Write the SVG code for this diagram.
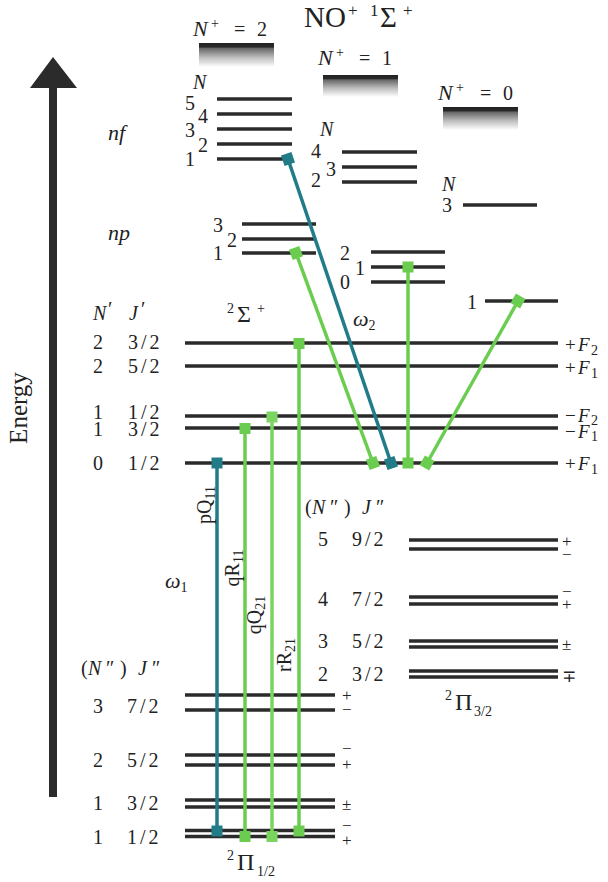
<svg xmlns="http://www.w3.org/2000/svg" width="608" height="882" viewBox="0 0 608 882">
<style>
text{font-family:"Liberation Serif","DejaVu Serif",serif;font-size:20px;fill:#222}
.i{font-style:italic}
.s{font-size:14px}
.pm{font-size:17px}
.fl{font-size:19px}
.lv{stroke:#2b2b2b;stroke-width:3.5;fill:none}
.teal{stroke:#217c88;stroke-width:3.5;fill:none}
.grn{stroke:#6bcd50;stroke-width:3.5;fill:none}
.grn2{stroke:#7bd460;stroke-width:3.5;fill:none}
</style>
<defs>
<linearGradient id="gb" x1="0" y1="0" x2="0" y2="1">
<stop offset="0" stop-color="#222"/>
<stop offset="0.17" stop-color="#2a2a2a"/>
<stop offset="0.22" stop-color="#666"/>
<stop offset="0.6" stop-color="#bdbdbd"/>
<stop offset="1" stop-color="#fff"/>
</linearGradient>
<marker id="mt" markerUnits="userSpaceOnUse" markerWidth="12" markerHeight="12" refX="6" refY="6" orient="auto"><rect x="0.5" y="0.5" width="11" height="11" fill="#217c88"/></marker>
<marker id="mg" markerUnits="userSpaceOnUse" markerWidth="12" markerHeight="12" refX="6" refY="6" orient="auto"><rect x="0.5" y="0.5" width="11" height="11" fill="#6bcd50"/></marker>
<marker id="mg2" markerUnits="userSpaceOnUse" markerWidth="12" markerHeight="12" refX="6" refY="6" orient="auto"><rect x="0.5" y="0.5" width="11" height="11" fill="#7bd460"/></marker>
</defs>
<rect width="608" height="882" fill="#fff"/>

<!-- Energy axis -->
<g id="energy-axis">
<rect x="49" y="86" width="8" height="711" fill="#2b2b2b"/>
<polygon points="53,57 30,88 77,88" fill="#2b2b2b"/>
<text transform="translate(27,408) rotate(-90)" text-anchor="middle" style="font-size:25px">Energy</text>
</g>

<!-- Title -->
<g id="title">
<text y="27" style="font-size:29px"><tspan x="304">NO</tspan><tspan x="348" y="16" style="font-size:17px">+</tspan><tspan x="370" y="16" style="font-size:17px">1</tspan><tspan x="380" y="27">Σ</tspan><tspan x="403" y="16" style="font-size:17px">+</tspan></text>
</g>

<!-- N+ = 2 series -->
<g id="nplus2">
<text y="36"><tspan x="193" class="i" style="font-size:22px">N</tspan><tspan class="s" x="211" y="28">+</tspan><tspan x="234" y="36">=</tspan><tspan x="257">2</tspan></text>
<rect x="199" y="43" width="75" height="24" fill="url(#gb)"/>
</g>
<g id="nf-levels">
<text x="108" y="140" class="i" style="font-size:22px">nf</text>
<text x="193" y="89" class="i">N</text>
<text x="185" y="110">5</text><text x="198" y="123">4</text><text x="185" y="137">3</text><text x="198" y="152">2</text><text x="185" y="166">1</text>
<path class="lv" d="M217,99H292M217,114H292M217,129H292M217,144H292M217,159H292"/>
</g>
<g id="np-levels">
<text x="108" y="240" class="i" style="font-size:22px">np</text>
<text x="213" y="232">3</text><text x="227" y="247">2</text><text x="213" y="260">1</text>
<path class="lv" d="M242,224H316M242,239H316M242,253H316"/>
</g>

<!-- N+ = 1 series -->
<g id="nplus1">
<text y="65"><tspan x="318" class="i" style="font-size:22px">N</tspan><tspan class="s" x="336" y="57">+</tspan><tspan x="359" y="65">=</tspan><tspan x="382">1</tspan></text>
<rect x="323" y="75" width="75" height="22" fill="url(#gb)"/>
</g>
<g id="nplus1-f">
<text x="320" y="136" class="i">N</text>
<text x="311" y="158">4</text><text x="326" y="176">3</text><text x="311" y="187">2</text>
<path class="lv" d="M342,152H417M342,167H417M342,182H417"/>
</g>
<g id="nplus1-p">
<text x="340" y="260">2</text><text x="355" y="275">1</text><text x="340" y="289">0</text>
<path class="lv" d="M371,252H445M371,267H445M371,282H445"/>
</g>

<!-- N+ = 0 series -->
<g id="nplus0">
<text y="100"><tspan x="438" class="i" style="font-size:22px">N</tspan><tspan class="s" x="456" y="92">+</tspan><tspan x="480" y="100">=</tspan><tspan x="503">0</tspan></text>
<rect x="443" y="107" width="75" height="23" fill="url(#gb)"/>
</g>
<g id="nplus0-levels">
<text x="442" y="191" class="i">N</text>
<text x="442" y="212">3</text>
<path class="lv" d="M463,205H537"/>
<text x="467" y="309">1</text>
<path class="lv" d="M485,301H558"/>
</g>

<!-- 2Sigma+ -->
<g id="sigma">
<text y="322"><tspan x="227" y="313" class="s">2</tspan><tspan x="237" y="322" style="font-size:24px">Σ</tspan><tspan x="257" y="313" class="s">+</tspan></text>
<text y="320"><tspan x="93" class="i">N</tspan><tspan x="108" y="316">′</tspan><tspan x="129" y="320" class="i">J</tspan><tspan x="141" y="316">′</tspan></text>
<text x="93" y="349">2</text><text x="128" y="349" letter-spacing="3">3/2</text>
<text x="93" y="373">2</text><text x="128" y="373" letter-spacing="3">5/2</text>
<text x="93" y="419">1</text><text x="128" y="419" letter-spacing="3">1/2</text>
<text x="93" y="436">1</text><text x="128" y="436" letter-spacing="3">3/2</text>
<text x="93" y="470">0</text><text x="128" y="470" letter-spacing="3">1/2</text>
<path class="lv" d="M185,343H558M185,366H558M185,416H558M185,428H558M185,463H558"/>
<text x="565" y="351" class="fl">+<tspan class="i" x="578">F</tspan><tspan class="s" x="591" dy="4">2</tspan></text>
<text x="565" y="374" class="fl">+<tspan class="i" x="578">F</tspan><tspan class="s" x="591" dy="4">1</tspan></text>
<text x="565" y="422" class="fl">−<tspan class="i" x="578">F</tspan><tspan class="s" x="591" dy="3">2</tspan></text>
<text x="565" y="438" class="fl">−<tspan class="i" x="578">F</tspan><tspan class="s" x="591" dy="3">1</tspan></text>
<text x="565" y="470" class="fl">+<tspan class="i" x="578">F</tspan><tspan class="s" x="591" dy="4">1</tspan></text>
</g>

<!-- 2Pi 3/2 -->
<g id="pi32">
<text y="514"><tspan x="305">(</tspan><tspan class="i" x="312">N</tspan><tspan x="330">″</tspan><tspan x="344">)</tspan><tspan class="i" x="362">J</tspan><tspan x="376">″</tspan></text>
<text x="318" y="546">5</text><text x="352" y="546" letter-spacing="3">9/2</text>
<text x="318" y="606">4</text><text x="352" y="606" letter-spacing="3">7/2</text>
<text x="318" y="648">3</text><text x="352" y="648" letter-spacing="3">5/2</text>
<text x="318" y="681">2</text><text x="352" y="681" letter-spacing="3">3/2</text>
<path class="lv" d="M409,540H558M409,549H558M409,597H558M409,604H558M409,641H558M409,647H558M409,671H558M409,677H558"/>
<text class="pm"><tspan x="562" y="547">+</tspan><tspan x="562" y="560">−</tspan></text>
<text class="pm"><tspan x="562" y="597">−</tspan><tspan x="562" y="610">+</tspan></text>
<text x="562" y="650" class="pm">±</text>
<text x="562" y="682" class="pm">∓</text>
<text y="710"><tspan x="445" y="700" class="s">2</tspan><tspan x="455" y="710" style="font-size:24px">Π</tspan><tspan class="s" x="474" y="716">3/2</tspan></text>
</g>

<!-- 2Pi 1/2 -->
<g id="pi12">
<text y="675"><tspan x="81">(</tspan><tspan class="i" x="88">N</tspan><tspan x="106">″</tspan><tspan x="120">)</tspan><tspan class="i" x="138">J</tspan><tspan x="152">″</tspan></text>
<text x="93" y="713">3</text><text x="127" y="713" letter-spacing="3">7/2</text>
<text x="93" y="767">2</text><text x="127" y="767" letter-spacing="3">5/2</text>
<text x="93" y="810">1</text><text x="127" y="810" letter-spacing="3">3/2</text>
<text x="93" y="844">1</text><text x="127" y="844" letter-spacing="3">1/2</text>
<path class="lv" d="M185,695H335M185,710H335M185,755H335M185,765H335M185,800H335M185,807H335M185,830.5H335M185,836.5H335"/>
<text class="pm"><tspan x="342" y="701">+</tspan><tspan x="342" y="715">−</tspan></text>
<text class="pm"><tspan x="342" y="754">−</tspan><tspan x="342" y="770">+</tspan></text>
<text x="342" y="810" class="pm">±</text>
<text class="pm"><tspan x="342" y="831">−</tspan><tspan x="342" y="846">+</tspan></text>
<text y="870"><tspan x="227" y="860" class="s">2</tspan><tspan x="237" y="870" style="font-size:24px">Π</tspan><tspan class="s" x="257" y="876">1/2</tspan></text>
</g>

<!-- connectors -->
<g id="transitions">
<line class="teal" x1="217" y1="831" x2="217" y2="463" marker-start="url(#mt)" marker-end="url(#mt)"/>
<line class="grn" x1="245" y1="836.5" x2="245" y2="428.5" marker-start="url(#mg)" marker-end="url(#mg)"/>
<line class="grn2" x1="272" y1="836.5" x2="272" y2="417" marker-start="url(#mg2)" marker-end="url(#mg2)"/>
<line class="grn" x1="299" y1="831" x2="299" y2="343.5" marker-start="url(#mg)" marker-end="url(#mg)"/>
<line class="grn" x1="373" y1="463" x2="296" y2="253" marker-start="url(#mg)" marker-end="url(#mg)"/>
<line class="teal" x1="391" y1="463" x2="288" y2="159" marker-start="url(#mt)" marker-end="url(#mt)"/>
<line class="grn" x1="408" y1="463" x2="408" y2="267" marker-start="url(#mg)" marker-end="url(#mg)"/>
<line class="grn" x1="427" y1="463" x2="518" y2="301" marker-start="url(#mg)" marker-end="url(#mg)"/>
</g>
<g id="transition-labels">
<text transform="translate(211,505) rotate(-90)" text-anchor="middle">pQ<tspan class="s" dy="4">11</tspan></text>
<text transform="translate(239,568) rotate(-90)" text-anchor="middle">qR<tspan class="s" dy="4">11</tspan></text>
<text transform="translate(261,615) rotate(-90)" text-anchor="middle">qQ<tspan class="s" dy="4">21</tspan></text>
<text transform="translate(291,655) rotate(-90)" text-anchor="middle">rR<tspan class="s" dy="4">21</tspan></text>
<text x="165" y="588" class="i" style="font-size:22px">ω<tspan class="s" font-style="normal" dy="4">1</tspan></text>
<text x="353" y="326" class="i" style="font-size:22px">ω<tspan class="s" font-style="normal" dy="4">2</tspan></text>
</g>
</svg>
